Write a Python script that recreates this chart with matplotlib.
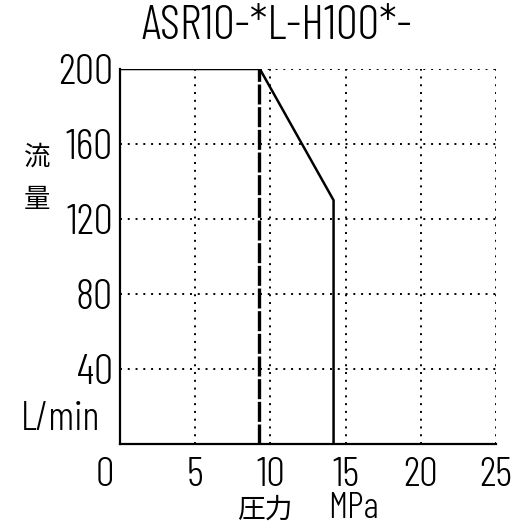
import matplotlib
matplotlib.use("Agg")
import matplotlib.pyplot as plt
import matplotlib.transforms as mtransforms

# Flow (L/min) versus pressure (MPa) characteristic
curve_pressure = [0, 9.3, 14.2, 14.2]
curve_flow = [200, 200, 130, 0]
relief_pressure = [9.25, 9.25]
relief_flow = [0, 200]

x_ticks = [0, 5, 10, 15, 20, 25]
x_labels = ["0", "5", "10", "15", "20", "25"]
y_ticks = [40, 80, 120, 160, 200]
y_labels = ["40", "80", "120", "160", "200"]

title_text = "ASR10-*L-H100*-"
y_name = ["流", "量"]
y_unit = "L/min"
x_name = "圧力"
x_unit = "MPa"

narrow = ["Barlow Condensed", "Noto Sans CJK JP", "DejaVu Sans"]
cjk = ["Noto Sans CJK JP", "DejaVu Sans"]
light = 300

W, H = 522, 526
fig = plt.figure(figsize=(W / 100, H / 100), dpi=100)
ax = fig.add_axes([120 / W, 1 - 444 / H, 376 / W, 375 / H])
ax.set_xlim(0, 25)
ax.set_ylim(0, 200)

grid_style = dict(color="black", lw=1.4, linestyle=(0, (1, 3.0)))
for gx in x_ticks[1:]:
    ax.plot([gx, gx], [0, 200], **grid_style, zorder=1)
for gy in y_ticks:
    ax.plot([0, 25], [gy, gy], **grid_style, zorder=1)

ax.plot(curve_pressure, curve_flow, color="black", lw=1.8, solid_joinstyle="miter", zorder=3)
ax.plot(relief_pressure, relief_flow, color="black", lw=2.4, linestyle=(0, (6, 0.8)), zorder=3)

for side in ("top", "right"):
    ax.spines[side].set_visible(False)
for side in ("left", "bottom"):
    ax.spines[side].set_linewidth(1.6)

ax.set_xticks(x_ticks)
ax.set_xticklabels(x_labels, fontsize=30, family=narrow, weight=light)
ax.set_yticks(y_ticks)
ax.set_yticklabels(y_labels, fontsize=31, family=narrow, weight=light)
ax.tick_params(axis="x", length=0, pad=9)
ax.tick_params(axis="y", length=0, pad=5)
# first pressure label sits left of the axis corner
first = ax.get_xticklabels()[0]
first.set_transform(first.get_transform() + mtransforms.ScaledTranslation(-0.15, 0, fig.dpi_scale_trans))

fig.text(277 / W, 1 - 27 / H, title_text, fontsize=35, family=narrow, weight=light, ha="center", va="center")
fig.text(37 / W, 1 - 157 / H, y_name[0], fontsize=19, family=cjk, ha="center", va="center")
fig.text(37 / W, 1 - 200 / H, y_name[1], fontsize=19, family=cjk, ha="center", va="center")
fig.text(60 / W, 1 - 419 / H, y_unit, fontsize=29, family=narrow, weight=light, ha="center", va="center")
fig.text(265 / W, 1 - 510 / H, x_name, fontsize=20, family=cjk, ha="center", va="center")
fig.text(353 / W, 1 - 509 / H, x_unit, fontsize=27, family=narrow, weight=light, ha="center", va="center")

fig.savefig("out.png", dpi=100, facecolor="white")
